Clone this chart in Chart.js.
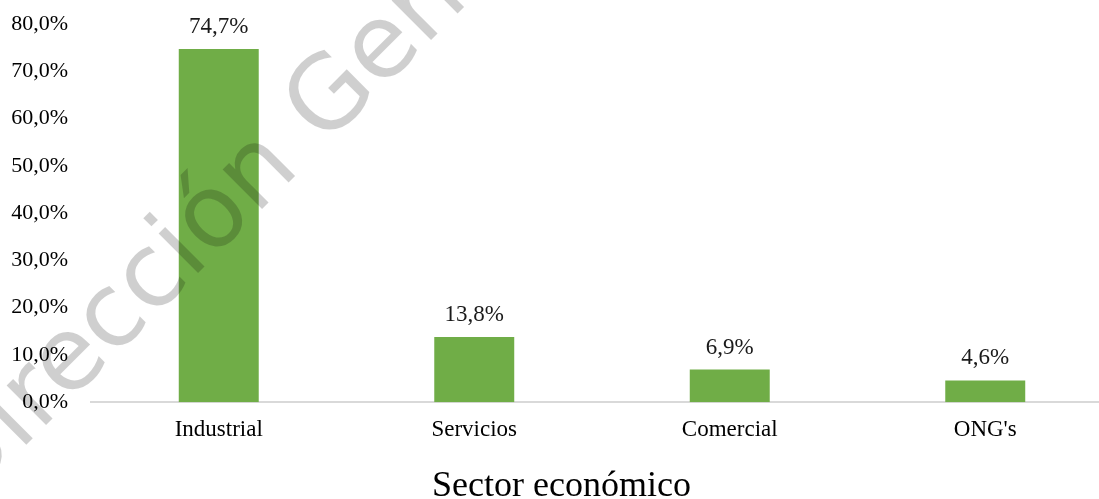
<!DOCTYPE html>
<html>
<head>
<meta charset="utf-8">
<script src="https://cdn.jsdelivr.net/npm/chart.js@4"></script>
<style>
  html, body { margin: 0; padding: 0; background: #fff; overflow: hidden; }
  #wrap { width: 1128px; height: 499px; }
</style>
</head>
<body>
<div id="wrap"><canvas id="chart-sector" width="1128" height="499"></canvas></div>
<script>
const sectores = ['Industrial', 'Servicios', 'Comercial', "ONG's"];
const porcentajes = [74.7, 13.8, 6.9, 4.6];
const yTicks = [0, 10, 20, 30, 40, 50, 60, 70, 80];
const tituloEje = 'Sector económico';
const marcaAgua = 'Dirección General';

const serif = "'Liberation Serif', 'Times New Roman', serif";

function fmt(v) {
    return v.toFixed(1).replace('.', ',') + '%';
}

// value labels above each bar
const valueLabels = {
    id: 'valueLabels',
    afterDatasetsDraw: function (chart) {
        const ctx = chart.ctx;
        const meta = chart.getDatasetMeta(0);
        ctx.save();
        ctx.font = '23px ' + serif;
        ctx.fillStyle = '#1a1a1a';
        ctx.textAlign = 'center';
        ctx.textBaseline = 'alphabetic';
        meta.data.forEach(function (bar, i) {
            ctx.fillText(fmt(porcentajes[i]), bar.x, bar.y - 16);
        });
        ctx.restore();
    }
};

// diagonal watermark on top of everything
const watermark = {
    id: 'watermark',
    afterDraw: function (chart) {
        const ctx = chart.ctx;
        ctx.save();
        ctx.translate(-36, 507);
        ctx.rotate(-Math.PI / 4);
        ctx.font = "102px 'DejaVu Sans', sans-serif";
        ctx.fillStyle = 'rgba(0, 0, 0, 0.19)';
        ctx.textBaseline = 'alphabetic';
        ctx.textAlign = 'left';
        ctx.fillText(marcaAgua, 0, 0);
        ctx.restore();
    }
};

const ctx = document.getElementById('chart-sector').getContext('2d');
new Chart(ctx, {
    type: 'bar',
    data: {
        labels: sectores,
        datasets: [{
            data: porcentajes,
            backgroundColor: '#70ad47',
            borderWidth: 0,
            categoryPercentage: 1,
            barPercentage: 0.313
        }]
    },
    options: {
        responsive: false,
        animation: false,
        devicePixelRatio: 1,
        layout: { padding: { top: 24, left: 10, right: 15, bottom: 0 } },
        plugins: {
            legend: { display: false },
            tooltip: { enabled: false },
            title: {
                display: true,
                position: 'bottom',
                text: tituloEje,
                color: '#000',
                font: { family: serif, size: 36, weight: 'normal', lineHeight: 0.7 },
                padding: { top: 16, bottom: 0 }
            }
        },
        scales: {
            x: {
                grid: { display: false, drawTicks: false },
                border: { display: true, color: '#d9d9d9', width: 2 },
                ticks: {
                    color: '#000',
                    font: { family: serif, size: 23 },
                    padding: 14
                }
            },
            y: {
                min: 0,
                max: 80,
                afterFit: function (scale) {
                    scale.width = 81;
                    scale.paddingTop = 13;
                    scale.paddingBottom = 13;
                },
                afterBuildTicks: function (scale) {
                    scale.ticks = yTicks.map(function (v) { return { value: v }; });
                },
                grid: { display: false, drawTicks: false },
                border: { display: false },
                ticks: {
                    color: '#000',
                    font: { family: serif, size: 22 },
                    padding: 23,
                    callback: function (v) { return fmt(v); }
                }
            }
        }
    },
    plugins: [valueLabels, watermark]
});
</script>
</body>
</html>
